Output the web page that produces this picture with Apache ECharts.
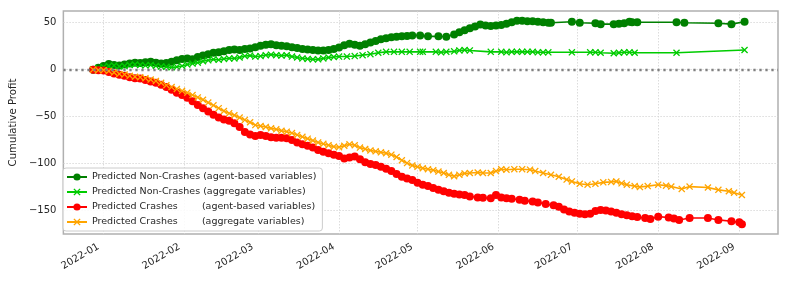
<!DOCTYPE html>
<html><head><meta charset="utf-8">
<script src="https://cdn.jsdelivr.net/npm/echarts@6/dist/echarts.min.js"></script>
<style>html,body{margin:0;padding:0;background:#fff}#c{width:789px;height:282px}</style>
</head><body><div id="c"></div>
<script>
const seriesNames = [
  'Predicted Non-Crashes (agent-based variables)',
  'Predicted Non-Crashes (aggregate variables)',
  'Predicted Crashes        (agent-based variables)',
  'Predicted Crashes        (aggregate variables)'
];
const xTickDates = ['2022-01-01','2022-02-01','2022-03-01','2022-04-01','2022-05-01','2022-06-01','2022-07-01','2022-08-01','2022-09-01'];
const yTicks = [-150, -100, -50, 0, 50];

const nonCrashAgentDates = ['2021-12-28','2021-12-30','2022-01-01','2022-01-03','2022-01-05','2022-01-07','2022-01-09','2022-01-11','2022-01-13','2022-01-15','2022-01-17','2022-01-19','2022-01-21','2022-01-23','2022-01-25','2022-01-27','2022-01-29','2022-01-31','2022-02-02','2022-02-04','2022-02-06','2022-02-08','2022-02-10','2022-02-12','2022-02-14','2022-02-16','2022-02-18','2022-02-20','2022-02-22','2022-02-24','2022-02-26','2022-02-28','2022-03-02','2022-03-04','2022-03-06','2022-03-08','2022-03-10','2022-03-12','2022-03-14','2022-03-16','2022-03-18','2022-03-20','2022-03-22','2022-03-24','2022-03-26','2022-03-28','2022-03-30','2022-04-01','2022-04-03','2022-04-05','2022-04-07','2022-04-09','2022-04-11','2022-04-13','2022-04-15','2022-04-17','2022-04-19','2022-04-21','2022-04-23','2022-04-25','2022-04-27','2022-04-29','2022-05-02','2022-05-05','2022-05-09','2022-05-12','2022-05-15','2022-05-17','2022-05-19','2022-05-21','2022-05-23','2022-05-25','2022-05-27','2022-05-29','2022-05-31','2022-06-02','2022-06-04','2022-06-06','2022-06-08','2022-06-10','2022-06-12','2022-06-14','2022-06-16','2022-06-18','2022-06-20','2022-06-21','2022-06-29','2022-07-02','2022-07-08','2022-07-10','2022-07-15','2022-07-17','2022-07-19','2022-07-21','2022-07-22','2022-07-24','2022-08-08','2022-08-11','2022-08-24','2022-08-29','2022-09-03'];
const nonCrashAgentVals = [0,2,4,6,5,4.5,5.5,6.5,7.5,7,8,8.5,7.5,6.5,7,8.5,10,11.5,12,11,13.5,15,16.5,18,18.5,19.5,21,21.5,21,22,22.5,24,25.5,26.5,27,26,25.5,25,24,23,22,21.5,21,20.5,20.5,21,22,23.5,26,27.5,26.5,25.5,27,29,30.5,32.5,33.5,34.5,35,35.5,36,36.5,36.5,35.5,35.5,35,37.5,40,42,44,46,48,47,46.5,47,47.5,49,50.5,52,52,51.5,51.5,51,50.5,50,50,51,50,49.5,48.5,48.5,49,49.5,51,50.5,50.5,50.5,50,49.5,48.5,51];

const nonCrashAggDates = ['2021-12-28','2021-12-30','2022-01-01','2022-01-03','2022-01-05','2022-01-07','2022-01-09','2022-01-11','2022-01-13','2022-01-15','2022-01-17','2022-01-19','2022-01-21','2022-01-23','2022-01-25','2022-01-27','2022-01-29','2022-01-31','2022-02-02','2022-02-04','2022-02-06','2022-02-08','2022-02-10','2022-02-12','2022-02-14','2022-02-16','2022-02-18','2022-02-20','2022-02-22','2022-02-24','2022-02-26','2022-02-28','2022-03-02','2022-03-04','2022-03-06','2022-03-08','2022-03-10','2022-03-12','2022-03-14','2022-03-16','2022-03-18','2022-03-20','2022-03-22','2022-03-24','2022-03-26','2022-03-28','2022-03-30','2022-04-01','2022-04-04','2022-04-07','2022-04-10','2022-04-13','2022-04-16','2022-04-19','2022-04-22','2022-04-25','2022-04-28','2022-05-02','2022-05-03','2022-05-08','2022-05-10','2022-05-12','2022-05-15','2022-05-17','2022-05-19','2022-05-21','2022-05-29','2022-06-02','2022-06-04','2022-06-06','2022-06-08','2022-06-10','2022-06-12','2022-06-14','2022-06-16','2022-06-18','2022-06-20','2022-06-29','2022-07-06','2022-07-08','2022-07-10','2022-07-15','2022-07-17','2022-07-19','2022-07-21','2022-07-23','2022-08-08','2022-09-03'];
const nonCrashAggVals = [0.5,1.5,3,4,4.5,3.5,4,5,5.5,5,4.5,5,4,3.5,3,2.5,3,4,5.5,6.5,7.5,9,10,11,10.5,11.5,12,12,13,14.5,15,14,14.5,15.5,16,15.5,15,15.5,14,13,12,11.5,11,11,12,13,13.5,14,14,14.5,15.5,16.5,18,19,19,19,19,19,19,19,18.5,19,19.5,20.5,21,20.5,19,19,18.5,19,19,19,19,19,18.5,18.5,18.5,18.5,18.5,18.5,18,17.5,18,18.5,18.5,18,18,21];

const crashAgentDates = ['2021-12-28','2021-12-30','2022-01-01','2022-01-03','2022-01-05','2022-01-07','2022-01-09','2022-01-11','2022-01-13','2022-01-15','2022-01-17','2022-01-19','2022-01-21','2022-01-23','2022-01-25','2022-01-27','2022-01-29','2022-01-31','2022-02-02','2022-02-04','2022-02-06','2022-02-08','2022-02-10','2022-02-12','2022-02-14','2022-02-16','2022-02-18','2022-02-20','2022-02-22','2022-02-24','2022-02-26','2022-02-28','2022-03-02','2022-03-04','2022-03-06','2022-03-08','2022-03-10','2022-03-12','2022-03-14','2022-03-16','2022-03-18','2022-03-20','2022-03-22','2022-03-24','2022-03-26','2022-03-28','2022-03-30','2022-04-01','2022-04-03','2022-04-05','2022-04-07','2022-04-09','2022-04-11','2022-04-13','2022-04-15','2022-04-17','2022-04-19','2022-04-21','2022-04-23','2022-04-25','2022-04-27','2022-04-29','2022-05-01','2022-05-03','2022-05-05','2022-05-07','2022-05-09','2022-05-11','2022-05-13','2022-05-15','2022-05-17','2022-05-19','2022-05-21','2022-05-24','2022-05-26','2022-05-29','2022-05-31','2022-06-02','2022-06-04','2022-06-06','2022-06-09','2022-06-11','2022-06-14','2022-06-16','2022-06-19','2022-06-22','2022-06-24','2022-06-26','2022-06-28','2022-06-30','2022-07-02','2022-07-04','2022-07-06','2022-07-08','2022-07-10','2022-07-12','2022-07-14','2022-07-16','2022-07-18','2022-07-20','2022-07-22','2022-07-24','2022-07-27','2022-07-29','2022-08-01','2022-08-05','2022-08-07','2022-08-09','2022-08-13','2022-08-20','2022-08-24','2022-08-29','2022-09-01','2022-09-02'];
const crashAgentVals = [0,-0.5,-1,-2.5,-4,-5.5,-6.5,-8,-9,-9.5,-11,-12.5,-14,-16,-18.5,-21.5,-24.5,-27,-30,-33.5,-37.5,-41,-44.5,-48,-51,-53,-54.5,-57,-61,-66.5,-69,-70.5,-69.5,-70.5,-72,-72.5,-72.5,-73,-75,-77.5,-79.5,-81,-83,-85.5,-87.5,-89,-90.5,-92,-94.5,-93.5,-92.5,-95.5,-98.5,-100.5,-101.5,-103.5,-105.5,-108,-111,-114,-116,-117.5,-120.5,-122.5,-124,-126,-128,-129.5,-131,-132,-133,-133.5,-135,-136,-136.5,-137,-133.5,-136,-137,-137.5,-138.5,-139.5,-140.5,-141.5,-143,-144.5,-146,-149,-151,-152.5,-153.5,-154,-153.5,-150.5,-149.5,-150,-151,-152.5,-154,-155,-156,-157,-158,-159,-156.5,-157.5,-158.5,-160,-158,-158,-160,-161.5,-162.5,-164.5];

const crashAggDates = ['2021-12-28','2021-12-30','2022-01-01','2022-01-03','2022-01-05','2022-01-07','2022-01-09','2022-01-11','2022-01-13','2022-01-15','2022-01-17','2022-01-19','2022-01-21','2022-01-23','2022-01-25','2022-01-27','2022-01-29','2022-01-31','2022-02-02','2022-02-04','2022-02-06','2022-02-08','2022-02-10','2022-02-12','2022-02-14','2022-02-16','2022-02-18','2022-02-20','2022-02-22','2022-02-24','2022-02-26','2022-02-28','2022-03-02','2022-03-04','2022-03-06','2022-03-08','2022-03-10','2022-03-12','2022-03-14','2022-03-16','2022-03-18','2022-03-20','2022-03-22','2022-03-24','2022-03-26','2022-03-28','2022-03-30','2022-04-01','2022-04-03','2022-04-05','2022-04-07','2022-04-09','2022-04-11','2022-04-13','2022-04-15','2022-04-17','2022-04-19','2022-04-21','2022-04-23','2022-04-25','2022-04-27','2022-04-29','2022-05-01','2022-05-03','2022-05-05','2022-05-07','2022-05-09','2022-05-11','2022-05-13','2022-05-15','2022-05-17','2022-05-19','2022-05-21','2022-05-24','2022-05-26','2022-05-29','2022-05-31','2022-06-02','2022-06-04','2022-06-07','2022-06-10','2022-06-13','2022-06-15','2022-06-18','2022-06-21','2022-06-24','2022-06-27','2022-06-29','2022-07-02','2022-07-05','2022-07-08','2022-07-11','2022-07-14','2022-07-16','2022-07-18','2022-07-20','2022-07-23','2022-07-25','2022-07-28','2022-08-01','2022-08-04','2022-08-06','2022-08-10','2022-08-13','2022-08-20','2022-08-24','2022-08-28','2022-08-30','2022-09-02'];
const crashAggVals = [0,-0.5,-0.5,-1.5,-3,-4.5,-5,-6.5,-7.5,-8,-9,-10.5,-12,-14,-16.5,-18.5,-20.5,-22.5,-24.5,-27,-29.5,-32,-35,-38,-41,-44,-46.5,-48.5,-51,-53.5,-56,-59,-60,-61,-62.5,-63.5,-65,-66,-67.5,-69.5,-71.5,-73.5,-75.5,-77.5,-79,-80.5,-82,-82.5,-81,-79.5,-80.5,-83,-84.5,-86,-87,-88,-89,-90.5,-93,-96.5,-99.5,-102,-103.5,-105,-106,-107,-108.5,-110,-112,-113.5,-112,-110.5,-110,-109.5,-110,-110,-108,-106,-106.5,-106,-106,-106.5,-108,-110,-112,-114,-117,-119,-121.5,-122.5,-121.5,-120,-119.5,-119,-121,-122.5,-124,-125,-124,-122.5,-123.5,-124.5,-127,-124.5,-125.5,-128,-129.5,-131,-133.5];

const pd = s => +echarts.number.parseDate(s);
const pair = (ds, vs) => ds.map((d, i) => [pd(d), vs[i]]);
const xPath = 'path://M0,1.3L1.3,0L5,3.7L8.7,0L10,1.3L6.3,5L10,8.7L8.7,10L5,6.3L1.3,10L0,8.7L3.7,5Z';
const FONT = 'DejaVu Sans';
const xTickVals = xTickDates.map(pd);

function mk(name, data, color, symbol, size, extra) {
  return Object.assign({
    name, type: 'line', data, symbol, symbolSize: size, showSymbol: true,
    lineStyle: { color, width: 1.6 }, itemStyle: { color, borderColor: color, borderWidth: 0 },
    emphasis: { disabled: true }, animation: false
  }, extra || {});
}

const chart = echarts.init(document.getElementById('c'), null, { renderer: 'canvas' });
chart.setOption({
  animation: false,
  backgroundColor: '#ffffff',
  textStyle: { fontFamily: FONT },
  grid: { left: 58, right: 11, top: 11, bottom: 48, show: true, borderColor: '#b0b0b0', borderWidth: 1.5, backgroundColor: 'transparent' },
  legend: {
    orient: 'vertical', left: 63, top: 168,
    itemWidth: 20, itemHeight: 9, itemGap: 5,
    padding: [4, 6, 4, 3],
    backgroundColor: 'rgba(255,255,255,0.85)', borderColor: '#cccccc', borderWidth: 1, borderRadius: 3,
    textStyle: { fontFamily: FONT, fontSize: 9.5, color: '#262626' },
    data: seriesNames
  },
  xAxis: {
    type: 'value',
    min: pd('2021-12-16 15:00'), max: pd('2022-09-15 19:00'),
    axisLine: { show: false }, axisTick: { show: false, customValues: xTickVals },
    axisLabel: { customValues: xTickVals, rotate: 30, margin: 9, padding: [0, 6, 0, 0], fontFamily: FONT, fontSize: 10, color: '#262626',
      formatter: v => echarts.time.format(v, '{yyyy}-{MM}', false) },
    splitLine: { show: true, lineStyle: { color: '#d3d3d3', width: 0.8, type: [1.5, 1.5] } }
  },
  yAxis: {
    type: 'value', min: -175, max: 62.5,
    name: 'Cumulative Profit', nameLocation: 'middle', nameGap: 26,
    nameTextStyle: { fontFamily: FONT, fontSize: 10.2, color: '#262626' },
    axisLine: { show: false }, axisTick: { show: false, customValues: yTicks },
    axisLabel: { customValues: yTicks, margin: 7, fontFamily: FONT, fontSize: 10, color: '#262626',
      formatter: v => String(v).replace('-', '\u2212') },
    splitLine: { show: true, lineStyle: { color: '#d3d3d3', width: 0.8, type: [1.5, 1.5] } }
  },
  series: [
    mk(seriesNames[0], pair(nonCrashAgentDates, nonCrashAgentVals), '#008000', 'circle', 8, {
      markLine: { silent: true, symbol: 'none', label: { show: false }, animation: false,
        lineStyle: { color: '#808080', width: 2.3, type: [2.3, 3.7] }, data: [{ yAxis: 0 }] }
    }),
    mk(seriesNames[1], pair(nonCrashAggDates, nonCrashAggVals), '#00cc00', xPath, 7),
    mk(seriesNames[2], pair(crashAgentDates, crashAgentVals), '#ff0000', 'circle', 8),
    mk(seriesNames[3], pair(crashAggDates, crashAggVals), '#ffa500', xPath, 7)
  ]
});
</script></body></html>
